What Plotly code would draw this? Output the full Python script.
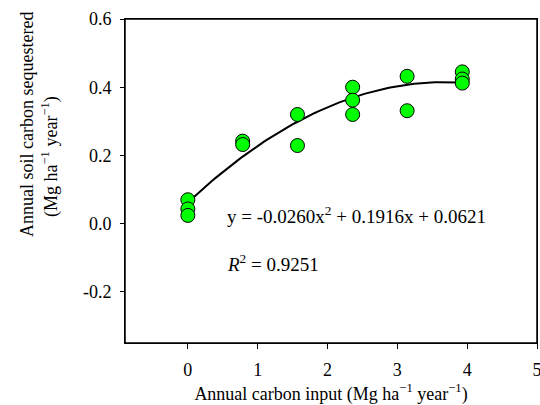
import plotly.graph_objects as go

# Data
x_vals = [0, 0, 0, 0.785, 0.785, 1.57, 1.57, 2.36, 2.36, 2.36, 3.14, 3.14, 3.93, 3.93, 3.93]
y_vals = [0.07, 0.043, 0.024, 0.242, 0.232, 0.32, 0.229, 0.40, 0.362, 0.32, 0.432, 0.331, 0.445, 0.424, 0.412]

# Quadratic fit coefficients shown on the chart (a, b, c)
fit_coef = [-0.0260, 0.1916, 0.0621]
fit_x = [i * 3.93 / 80 for i in range(81)]
fit_y = [fit_coef[0] * v * v + fit_coef[1] * v + fit_coef[2] for v in fit_x]

x_ticks = [0, 1, 2, 3, 4, 5]
y_ticks = [-0.2, 0.0, 0.2, 0.4, 0.6]
y_ticklabels = ["-0.2", "0.0", "0.2", "0.4", "0.6"]

FONT = "'Liberation Serif', 'Times New Roman', Times, serif"

fig = go.Figure()
fig.add_trace(go.Scatter(x=fit_x, y=fit_y, mode="lines",
                         line=dict(color="black", width=2), hoverinfo="skip"))
fig.add_trace(go.Scatter(x=x_vals, y=y_vals, mode="markers",
                         marker=dict(size=14, color="#00FF00",
                                     line=dict(color="black", width=1))))

fig.update_layout(
    width=540, height=405,
    margin=dict(l=125, r=3, t=19, b=62, autoexpand=False),
    paper_bgcolor="white", plot_bgcolor="white",
    showlegend=False,
    font=dict(family=FONT, size=18, color="black"),
    xaxis=dict(range=[-0.9, 5], tickvals=x_ticks, ticks="outside", ticklen=5,
               tickcolor="black", showline=True, linecolor="black", linewidth=1,
               mirror=True, showgrid=False, zeroline=False, automargin=False,
               ticklabelstandoff=5, ticklabeloverflow="allow",
               tickfont=dict(family=FONT, size=18),
               title=dict(text="Annual carbon input (Mg ha<sup>−1</sup> year<sup>−1</sup>)",
                          font=dict(family=FONT, size=18), standoff=9)),
    yaxis=dict(range=[-0.35, 0.6], tickvals=y_ticks, ticktext=y_ticklabels,
               ticks="outside", ticklen=4, tickcolor="black", automargin=False,
               tickfont=dict(family=FONT, size=18),
               showline=True, linecolor="black", linewidth=1, mirror=True,
               showgrid=False, zeroline=False, ticklabelstandoff=5),
    shapes=[dict(type="rect", xref="paper", yref="paper", x0=0, x1=1, y0=0, y1=1,
                 line=dict(color="black", width=1.5), layer="above")],
)

fig.add_annotation(text="Annual soil carbon sequestered", textangle=-90,
                   xref="paper", yref="paper", x=(27 - 125) / 412, y=(343 - 125) / 324,
                   xanchor="center", yanchor="middle", showarrow=False,
                   font=dict(family=FONT, size=18))
fig.add_annotation(text="(Mg ha<sup>−1</sup> year<sup>−1</sup>)", textangle=-90,
                   xref="paper", yref="paper", x=(50 - 125) / 412, y=(343 - 157) / 324,
                   xanchor="center", yanchor="middle", showarrow=False,
                   font=dict(family=FONT, size=18))

fig.add_annotation(text="y = -0.0260x<sup>2</sup> + 0.1916x + 0.0621",
                   xref="x", yref="y", x=0.53, y=0.026, xanchor="left", yanchor="middle",
                   showarrow=False, font=dict(family=FONT, size=19))
fig.add_annotation(text="<i>R</i><sup>2</sup> = 0.9251",
                   xref="x", yref="y", x=0.53, y=-0.115, xanchor="left", yanchor="middle",
                   showarrow=False, font=dict(family=FONT, size=19))

fig.write_html("out.html", include_plotlyjs=True, config={"displayModeBar": False},
               post_script="document.body.style.margin='0';document.body.style.overflow='hidden';")
